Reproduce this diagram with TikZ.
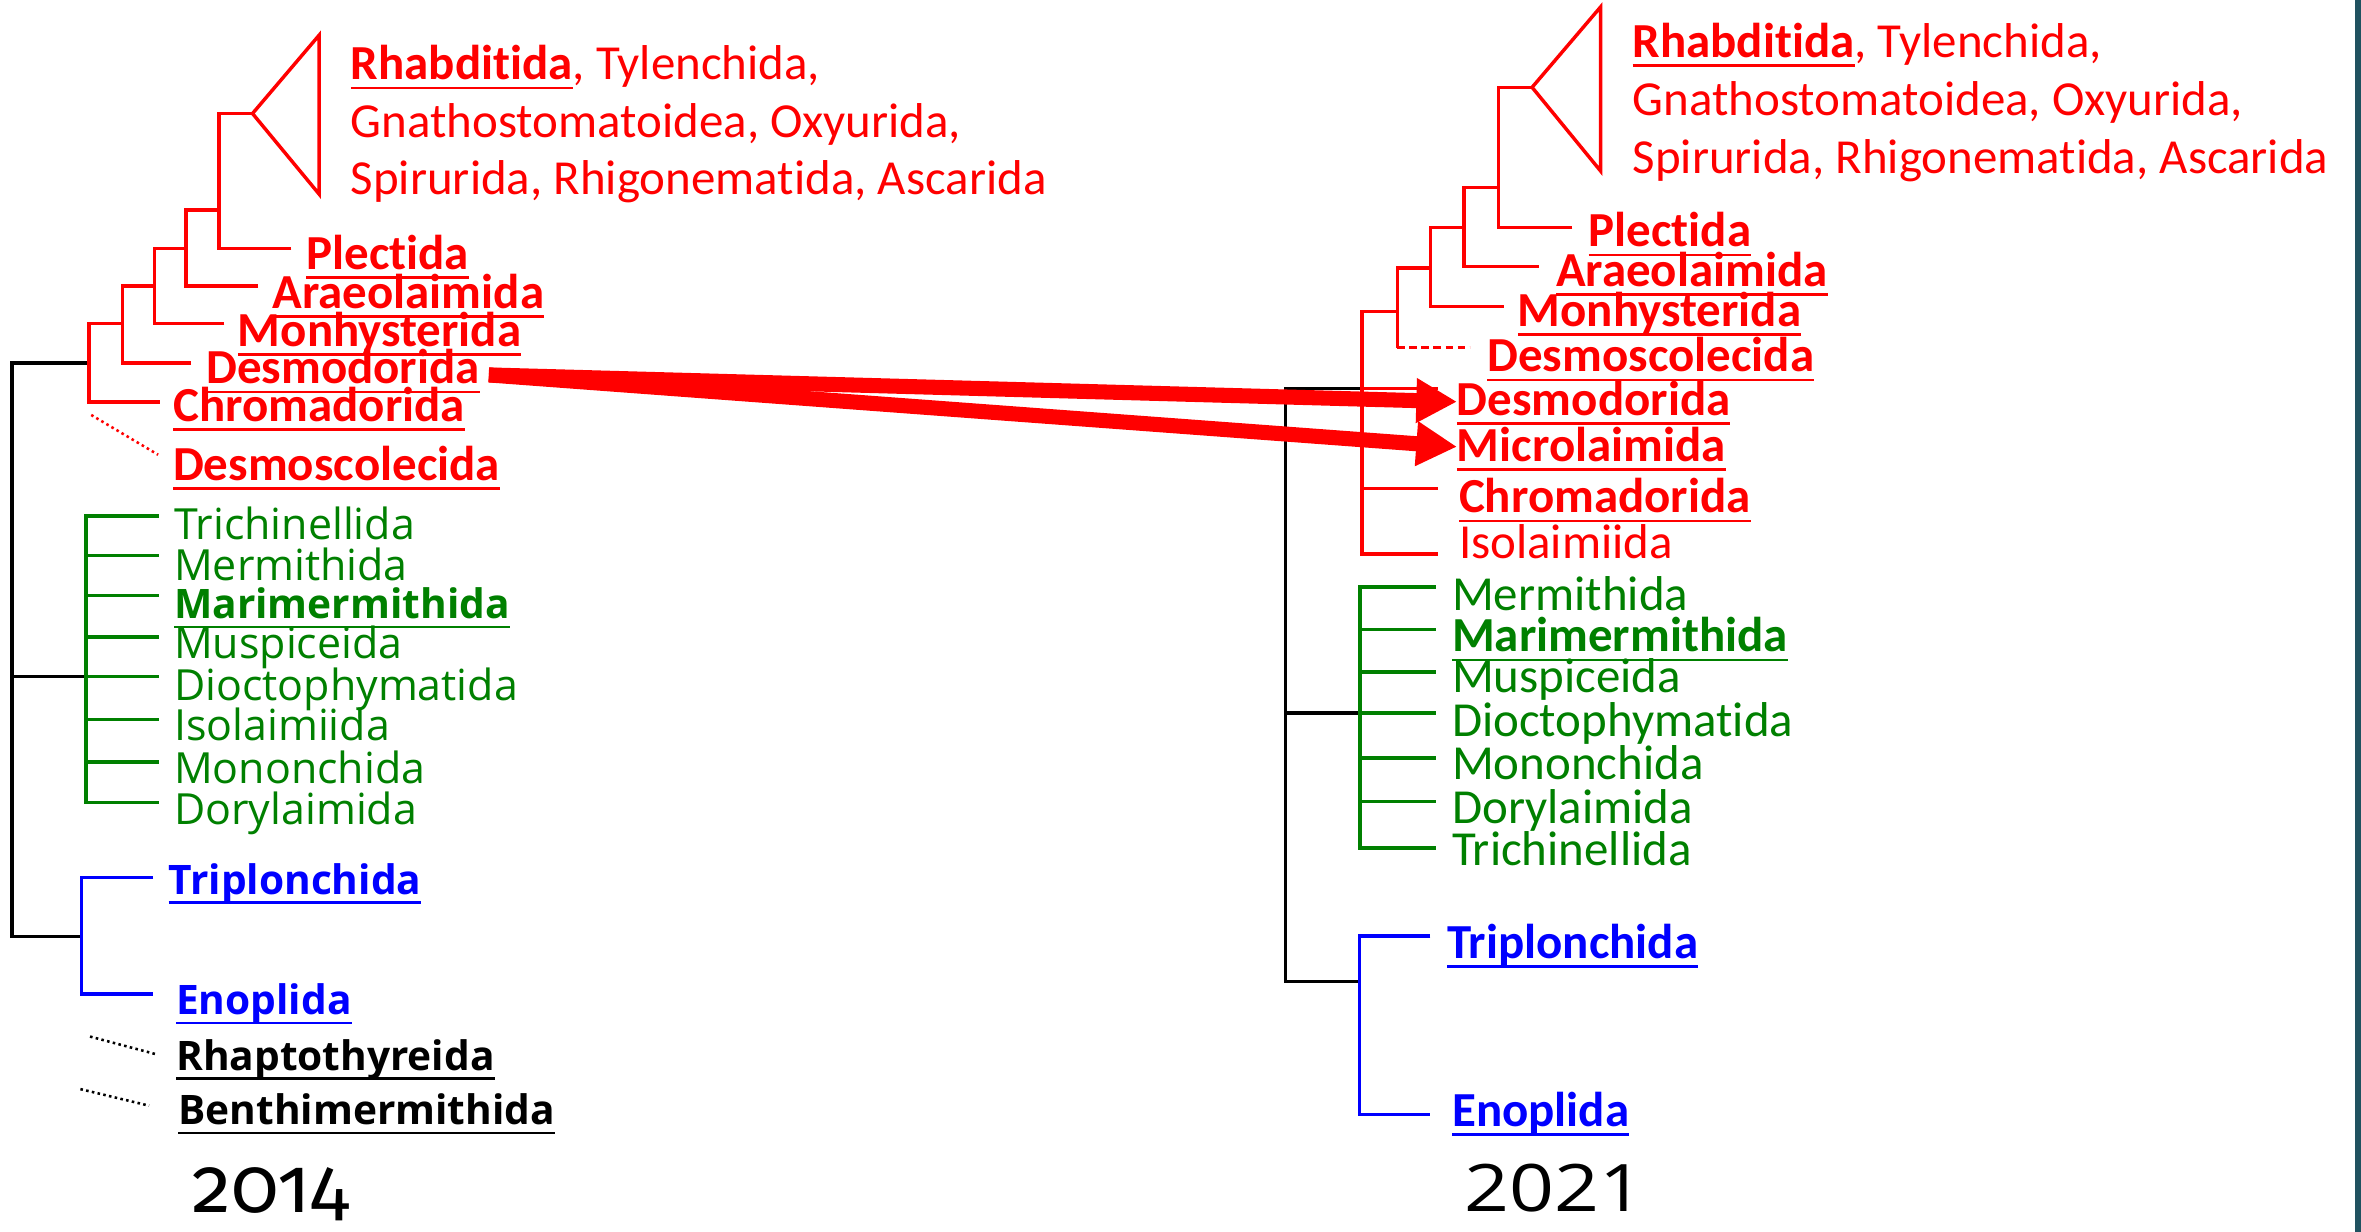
\documentclass[tikz,border=0pt]{standalone}
\usepackage{fontspec}
\usepackage{graphicx}
\usetikzlibrary{arrows.meta}
\newfontfamily\fcal{Carlito}[Ligatures={NoCommon,NoContextual}]
\newfontfamily\fcand{Open Sans}[Ligatures={NoCommon,NoContextual}]
\newfontfamily\fyr{Fira Sans}[Numbers=OldStyle]
\newsavebox\ulbox
\newcommand\ulx[1]{\sbox\ulbox{#1}\rlap{\rule[-6.3pt]{\wd\ulbox}{1.8pt}}\usebox\ulbox}
\definecolor{tgreen}{RGB}{0,128,0}
\definecolor{tteal}{RGB}{32,82,96}
\tikzset{
  lbl/.style={anchor=base west, inner sep=0pt, outer sep=0pt},
  calf/.style={lbl, font=\fcal\fontsize{32.5}{39}\selectfont},
  calb/.style={lbl, font=\fcal\bfseries\fontsize{32.5}{39}\selectfont},
  canf/.style={lbl, font=\fcand\fontsize{28.5}{34}\selectfont},
  canb/.style={lbl, font=\fcand\bfseries\fontsize{27}{32}\selectfont},
  rb/.style={draw=red, line width=2.3pt},
  gb/.style={draw=tgreen, line width=2.3pt},
  bb/.style={draw=blue, line width=2.3pt},
  kb/.style={draw=black, line width=2.3pt},
  dotl/.style={line width=1.7pt, dash pattern=on 1.7pt off 2.2pt},
  bigarrow/.style={draw=red, line width=10pt, -{Triangle[length=27pt,width=28pt]}},
}
\begin{document}
\begin{tikzpicture}[x=1pt,y=-1pt]
\useasboundingbox (0,0) rectangle (1568,818);
\fill[white] (0,0) rectangle (1568,818);
\fill[tteal] (1564,0) rectangle (1568,818);

% ===================== 2014 (left) =====================
\draw[kb] (59,241) -| (8,622) -- (54,622);
\draw[kb] (8,449.4) -- (57,449.4);
\draw[rb] (106,267) -| (59,215) -- (81.5,215);
\draw[rb] (127,241) -| (81.5,190) -- (102.5,190);
\draw[rb] (149,215) -| (102.5,165) -- (123.5,165);
\draw[rb] (171.5,190) -| (123.5,139.5) -- (145.3,139.5);
\draw[rb] (193.5,165) -| (145.3,75.4) -- (167.7,75.4);
\draw[rb] (167.7,75.4) -- (212,23.3) -- (212,129) -- cycle;
\draw[red, dotl] (60.6,275.6) -- (105,302);
\draw[gb] (105.5,342.7) -| (57,533) -- (105.5,533);
\foreach \yy in {369,395.6,423,449.4,478,506} \draw[gb] (57,\yy) -- (105.5,\yy);
\draw[bb] (101.7,582.6) -| (54,660) -- (101.7,660);
\draw[black, dotl] (59.8,688.4) -- (104.3,700.3);
\draw[black, dotl] (53.4,723.3) -- (99,734.3);

\node[calf, text=red] (lc1) at (233,53) {\ulx{\textbf{Rhabditida}}, Tylenchida,};
\node[calf, text=red] (lc2) at (233,91) {Gnathostomatoidea, Oxyurida,};
\node[calf, text=red] (lc3) at (233,129) {Spirurida, Rhigonematida, Ascarida};
\node[calb, text=red] (lpl) at (203.5,179) {\ulx{Plectida}};
\node[calb, text=red] (lar) at (181,205) {\ulx{Araeolaimida}};
\node[calb, text=red] (lmo) at (158,230) {\ulx{Monhysterida}};
\node[calb, text=red] (lde) at (137,255) {\ulx{Desmodorida}};
\node[calb, text=red] (lch) at (115,280) {\ulx{Chromadorida}};
\node[calb, text=red] (lds) at (115,319) {\ulx{Desmoscolecida}};

\node[canf, text=tgreen] (lg1) at (115.7,358.6) {Trichinellida};
\node[canf, text=tgreen] (lg2) at (115.7,385.6) {Mermithida};
\node[canb, text=tgreen] (lg3) at (115.7,411) {\ulx{Marimermithida}};
\node[canf, text=tgreen] (lg4) at (115.7,437.5) {Muspiceida};
\node[canf, text=tgreen] (lg5) at (115.7,465.2) {Dioctophymatida};
\node[canf, text=tgreen] (lg6) at (115.7,492) {Isolaimiida};
\node[canf, text=tgreen] (lg7) at (115.7,520.2) {Mononchida};
\node[canf, text=tgreen] (lg8) at (115.7,547.3) {Dorylaimida};

\node[canb, text=blue] (ltr) at (112,594) {\ulx{Triplonchida}};
\node[canb, text=blue] (len) at (117,674) {\ulx{Enoplida}};
\node[canb, text=black] (lrh) at (117,711) {\ulx{Rhaptothyreida}};
\node[canb, text=black] (lbe) at (118.5,747) {\ulx{Benthimermithida}};

\node[lbl, font=\fyr\fontsize{52}{60}\selectfont] (y14) at (128,805.5) {2014};

% ===================== 2021 (right) =====================
\draw[kb] (904.6,258) -| (853.7,652) -- (903,652);
\draw[kb] (853.7,473.6) -- (903.1,473.6);
\draw[rb] (928,207) -- (904.6,207) -- (904.6,367.8) -- (955,367.8);
\foreach \yy in {258,291,324.6} \draw[rb] (904.6,\yy) -- (955,\yy);
\draw[rb] (928,230.8) -- (928,178) -- (950,178);
\draw[red, line width=2.3pt, dash pattern=on 5pt off 3pt] (928,230.8) -- (976,230.8);
\draw[rb] (998.7,203.4) -| (950,151) -- (972.3,151);
\draw[rb] (1022,177) -| (972.3,124.5) -- (995,124.5);
\draw[rb] (1044.3,151) -| (995,58) -- (1017.5,58);
\draw[rb] (1017.5,58) -- (1063,4.6) -- (1063,113.6) -- cycle;
\draw[gb] (953.5,389.8) -| (903.1,563.2) -- (953.5,563.2);
\foreach \yy in {418.1,446.4,473.6,503.4,532.3} \draw[gb] (903.1,\yy) -- (953.5,\yy);
\draw[bb] (950,621.5) -| (903,740) -- (950,740);

\node[calf, text=red] (rc1) at (1084.3,38.1) {\ulx{\textbf{Rhabditida}}, Tylenchida,};
\node[calf, text=red] (rc2) at (1084.3,76.8) {Gnathostomatoidea, Oxyurida,};
\node[calf, text=red] (rc3) at (1084.3,114.9) {Spirurida, Rhigonematida, Ascarida};
\node[calb, text=red] (rpl) at (1055,164) {\ulx{Plectida}};
\node[calb, text=red] (rar) at (1033.4,190) {\ulx{Araeolaimida}};
\node[calb, text=red] (rmo) at (1008,216.8) {\ulx{Monhysterida}};
\node[calb, text=red] (rds) at (987.8,247) {\ulx{Desmoscolecida}};
\node[calb, text=red] (rde) at (967.6,275.8) {\ulx{Desmodorida}};
\node[calb, text=red] (rmi) at (967.6,306.3) {\ulx{Microlaimida}};
\node[calb, text=red] (rch) at (969,340.6) {\ulx{Chromadorida}};
\node[calf, text=red] (ris) at (969,371) {Isolaimiida};

\node[calf, text=tgreen] (rg1) at (964.4,405.7) {Mermithida};
\node[calb, text=tgreen] (rg2) at (964.4,433) {\ulx{Marimermithida}};
\node[calf, text=tgreen] (rg3) at (964.4,460) {Muspiceida};
\node[calf, text=tgreen] (rg4) at (964.4,488.8) {Dioctophymatida};
\node[calf, text=tgreen] (rg5) at (964.4,517.8) {Mononchida};
\node[calf, text=tgreen] (rg6) at (964.4,547.2) {Dorylaimida};
\node[calf, text=tgreen] (rg7) at (964.4,574.8) {Trichinellida};

\node[calb, text=blue] (rtr) at (961,636.3) {\ulx{Triplonchida}};
\node[calb, text=blue] (ren) at (964.4,748) {\ulx{Enoplida}};

\node[lbl, font=\fcand\fontsize{43.5}{50}\selectfont] (y21) at (972.8,804.3) {\scalebox{1.2}[1]{2021}};

% ===================== arrows =====================
\coordinate (astart) at ([xshift=6pt,yshift=6pt]lde.base east);
\draw[bigarrow] (astart) -- ([yshift=9pt]rde.base west);
\draw[bigarrow] (astart) -- ([yshift=9.6pt]rmi.base west);
\end{tikzpicture}
\end{document}
